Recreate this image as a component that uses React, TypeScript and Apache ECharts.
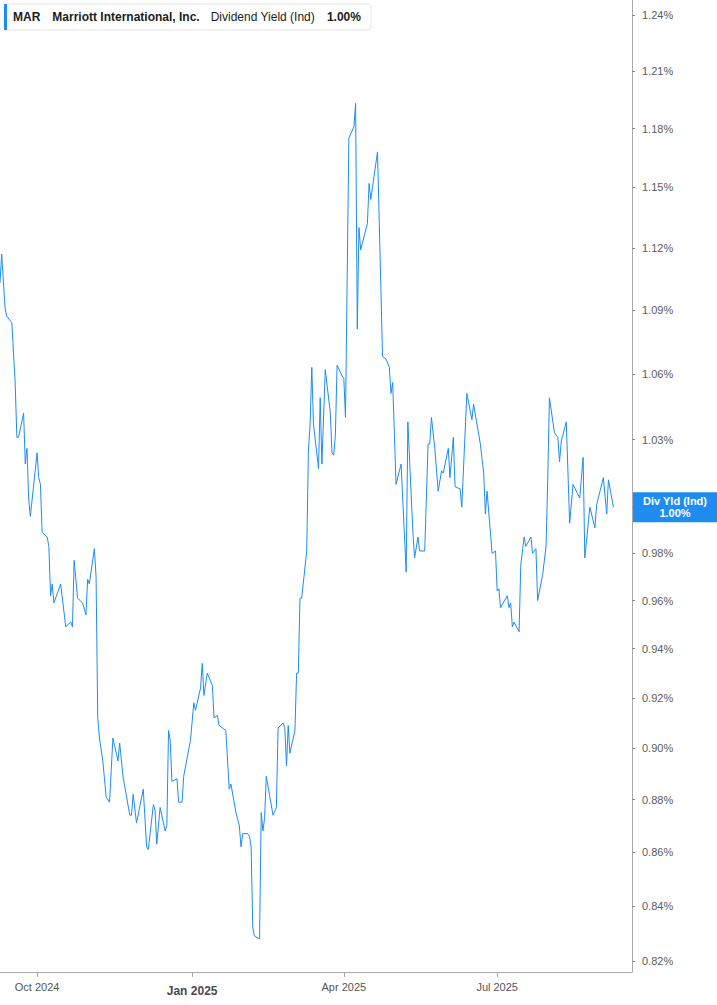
import React, { useEffect, useRef } from 'react';
import * as echarts from 'echarts';

// MAR dividend yield (indicated), in percent
const DATES = [
  '2024-09-09', '2024-09-10', '2024-09-12', '2024-09-13', '2024-09-16', '2024-09-18', '2024-09-19', '2024-09-20',
  '2024-09-23', '2024-09-24', '2024-09-25', '2024-09-26', '2024-09-27', '2024-10-01', '2024-10-02', '2024-10-03',
  '2024-10-04', '2024-10-07', '2024-10-08', '2024-10-09', '2024-10-10', '2024-10-11', '2024-10-15', '2024-10-18',
  '2024-10-21', '2024-10-22', '2024-10-23', '2024-10-25', '2024-10-28', '2024-10-30', '2024-10-31', '2024-11-01',
  '2024-11-04', '2024-11-05', '2024-11-06', '2024-11-07', '2024-11-09', '2024-11-11', '2024-11-13', '2024-11-15',
  '2024-11-18', '2024-11-19', '2024-11-21', '2024-11-25', '2024-11-26', '2024-11-27', '2024-11-29', '2024-12-03',
  '2024-12-05', '2024-12-06', '2024-12-09', '2024-12-10', '2024-12-11', '2024-12-13', '2024-12-16', '2024-12-17',
  '2024-12-18', '2024-12-19', '2024-12-20', '2024-12-23', '2024-12-24', '2024-12-26', '2024-12-27', '2024-12-31',
  '2025-01-02', '2025-01-03', '2025-01-06', '2025-01-07', '2025-01-08', '2025-01-10', '2025-01-13', '2025-01-14',
  '2025-01-16', '2025-01-17', '2025-01-21', '2025-01-23', '2025-01-24', '2025-01-27', '2025-01-29', '2025-01-30',
  '2025-01-31', '2025-02-03', '2025-02-04', '2025-02-05', '2025-02-06', '2025-02-07', '2025-02-10', '2025-02-11',
  '2025-02-12', '2025-02-13', '2025-02-14', '2025-02-18', '2025-02-20', '2025-02-21', '2025-02-24', '2025-02-25',
  '2025-02-26', '2025-02-27', '2025-02-28', '2025-03-03', '2025-03-04', '2025-03-05', '2025-03-06', '2025-03-07',
  '2025-03-10', '2025-03-11', '2025-03-12', '2025-03-13', '2025-03-14', '2025-03-17', '2025-03-18', '2025-03-19',
  '2025-03-21', '2025-03-24', '2025-03-25', '2025-03-26', '2025-03-27', '2025-03-28', '2025-03-31', '2025-04-01',
  '2025-04-02', '2025-04-04', '2025-04-07', '2025-04-08', '2025-04-09', '2025-04-10', '2025-04-11', '2025-04-15',
  '2025-04-16', '2025-04-17', '2025-04-21', '2025-04-24', '2025-04-26', '2025-04-28', '2025-04-29', '2025-04-30',
  '2025-05-02', '2025-05-05', '2025-05-08', '2025-05-09', '2025-05-12', '2025-05-13', '2025-05-15', '2025-05-16',
  '2025-05-19', '2025-05-21', '2025-05-22', '2025-05-23', '2025-05-25', '2025-05-27', '2025-05-29', '2025-05-30',
  '2025-06-02', '2025-06-03', '2025-06-05', '2025-06-06', '2025-06-09', '2025-06-10', '2025-06-13', '2025-06-16',
  '2025-06-17', '2025-06-21', '2025-06-23', '2025-06-24', '2025-06-25', '2025-06-28', '2025-06-30', '2025-07-01',
  '2025-07-02', '2025-07-03', '2025-07-07', '2025-07-08', '2025-07-09', '2025-07-10', '2025-07-11', '2025-07-14',
  '2025-07-15', '2025-07-17', '2025-07-18', '2025-07-21', '2025-07-22', '2025-07-24', '2025-07-25', '2025-07-28',
  '2025-07-30', '2025-07-31', '2025-08-01', '2025-08-04', '2025-08-06', '2025-08-07', '2025-08-08', '2025-08-11',
  '2025-08-13', '2025-08-15', '2025-08-19', '2025-08-21', '2025-08-22', '2025-08-25', '2025-08-26', '2025-08-28',
  '2025-08-29', '2025-09-02', '2025-09-04', '2025-09-05', '2025-09-08',
];

const YIELDS = [
  1.103, 1.117, 1.091, 1.087, 1.084, 1.056, 1.031, 1.031,
  1.042, 1.019, 1.026, 1.004, 0.996, 1.024, 1.013, 1.010,
  0.989, 0.987, 0.983, 0.962, 0.967, 0.959, 0.967, 0.949,
  0.951, 0.949, 0.977, 0.961, 0.959, 0.954, 0.969, 0.967,
  0.982, 0.970, 0.912, 0.904, 0.895, 0.881, 0.879, 0.904,
  0.895, 0.902, 0.889, 0.874, 0.874, 0.882, 0.871, 0.884,
  0.862, 0.861, 0.878, 0.876, 0.863, 0.877, 0.868, 0.870,
  0.907, 0.903, 0.887, 0.888, 0.879, 0.879, 0.889, 0.903,
  0.918, 0.915, 0.924, 0.934, 0.921, 0.930, 0.925, 0.912,
  0.913, 0.909, 0.907, 0.884, 0.886, 0.875, 0.870, 0.862,
  0.867, 0.867, 0.866, 0.862, 0.832, 0.829, 0.828, 0.875,
  0.868, 0.873, 0.889, 0.874, 0.877, 0.908, 0.910, 0.908,
  0.893, 0.909, 0.898, 0.907, 0.930, 0.930, 0.961, 0.961,
  0.981, 1.025, 1.037, 1.063, 1.037, 1.017, 1.049, 1.019,
  1.062, 1.042, 1.024, 1.023, 1.032, 1.064, 1.059, 1.058,
  1.040, 1.175, 1.181, 1.193, 1.081, 1.130, 1.119, 1.132,
  1.152, 1.144, 1.168, 1.068, 1.067, 1.063, 1.051, 1.056,
  1.010, 1.019, 0.972, 1.038, 0.989, 0.978, 0.987, 0.981,
  0.981, 1.028, 1.028, 1.040, 1.026, 1.007, 1.016, 1.015,
  1.026, 1.013, 1.031, 1.009, 1.008, 1.000, 1.051, 1.039,
  1.046, 1.028, 1.015, 0.997, 1.007, 0.980, 0.981, 0.964,
  0.965, 0.957, 0.962, 0.957, 0.959, 0.949, 0.951, 0.947,
  0.975, 0.987, 0.983, 0.987, 0.980, 0.982, 0.960, 0.971,
  0.983, 1.012, 1.049, 1.033, 1.031, 1.020, 1.029, 1.038,
  0.993, 1.010, 1.004, 1.022, 0.978, 1.000, 0.997, 0.991,
  1.001, 1.013, 0.997, 1.012, 1.000,
];

// tick marks; the 1.00% label sits under the last-value badge, so it has a tick only
const Y_TICKS = [0.82, 0.84, 0.86, 0.88, 0.9, 0.92, 0.94, 0.96, 0.98, 1.0, 1.03, 1.06, 1.09, 1.12, 1.15, 1.18, 1.21, 1.24];
const Y_LABELS = [0.82, 0.84, 0.86, 0.88, 0.9, 0.92, 0.94, 0.96, 0.98, 1.03, 1.06, 1.09, 1.12, 1.15, 1.18, 1.21, 1.24];
const X_TICKS = ['2024-10-01', '2025-01-01', '2025-04-01', '2025-07-01'];
const X_MIN = '2024-09-09';
const X_MAX = '2025-09-19';
const Y_MIN = 0.8161;
const Y_MAX = 1.2482;
const MONTHS = ['Jan', 'Feb', 'Mar', 'Apr', 'May', 'Jun', 'Jul', 'Aug', 'Sep', 'Oct', 'Nov', 'Dec'];

const BLUE = '#1e8cf0';
const FONT = '"Liberation Sans", Arial, sans-serif';

export default function App() {
  const chartRef = useRef<HTMLDivElement>(null);

  useEffect(() => {
    if (!chartRef.current) return;
    const chart = echarts.init(chartRef.current, null, { renderer: 'svg' });

    const last = YIELDS[YIELDS.length - 1];
    const pct = (v: number) => v.toFixed(2) + '%';
    // x: UTC timestamps on a value axis; y: ln(yield) for a log scale
    const points = DATES.map((d, i) => [Date.parse(d), Math.log(YIELDS[i])]);
    const xTicks = X_TICKS.map((d) => Date.parse(d));
    const yTicks = Y_TICKS.map((v) => Math.log(v));
    const yLabels = Y_LABELS.map((v) => Math.log(v));

    const option = {
      animation: false,
      backgroundColor: '#fff',
      textStyle: { fontFamily: FONT },
      grid: { left: 0, right: 85, top: 0, bottom: 33, containLabel: false, outerBoundsMode: 'none' },
      legend: {
        show: true,
        left: 4,
        top: 4,
        selectedMode: false,
        padding: [0, 10, 0, 0],
        itemWidth: 3,
        itemHeight: 26,
        backgroundColor: '#fff',
        borderColor: '#e4e4e4',
        borderWidth: 1,
        borderRadius: 3,
        data: [{ name: 'MAR', icon: 'rect', itemStyle: { color: BLUE } }],
        formatter: () =>
          `{a|MAR}{b|Marriott International, Inc.}{c|Dividend Yield (Ind)}{d|${pct(last)}}`,
        textStyle: {
          fontFamily: FONT,
          rich: {
            a: { fontSize: 12, fontWeight: 'bold', color: '#1c1c1c', fontFamily: FONT, padding: [0, 12, 0, 1] },
            b: { fontSize: 12, fontWeight: 'bold', color: '#1c1c1c', fontFamily: FONT, padding: [0, 11, 0, 0] },
            c: { fontSize: 12, fontWeight: 'normal', color: '#1c1c1c', fontFamily: FONT, padding: [0, 12, 0, 0] },
            d: { fontSize: 12, fontWeight: 'bold', color: '#1c1c1c', fontFamily: FONT },
          },
        },
      },
      xAxis: {
        type: 'value',
        min: Date.parse(X_MIN),
        max: Date.parse(X_MAX),
        axisLine: { show: true, onZero: false, lineStyle: { color: '#a8a8a8', width: 1 } },
        axisTick: { show: true, length: 5, lineStyle: { color: '#a8a8a8' }, customValues: xTicks },
        splitLine: { show: false },
        axisLabel: {
          customValues: xTicks,
          margin: 9,
          fontSize: 11,
          color: '#555',
          fontFamily: FONT,
          formatter: (v: number) => {
            const d = new Date(v);
            const s = `${MONTHS[d.getUTCMonth()]} ${d.getUTCFullYear()}`;
            return d.getUTCMonth() === 0 ? `{b|${s}}` : s;
          },
          rich: {
            b: { fontSize: 12, fontWeight: 'bold', color: '#4a4a4a', fontFamily: FONT, padding: [4, 0, 0, 0] },
          },
        },
      },
      yAxis: {
        type: 'value',
        position: 'right',
        min: Math.log(Y_MIN),
        max: Math.log(Y_MAX),
        axisLine: { show: true, onZero: false, lineStyle: { color: '#a8a8a8', width: 1 } },
        axisTick: { show: true, length: 3, lineStyle: { color: '#8a8a8a' }, customValues: yTicks },
        splitLine: { show: false },
        axisLabel: {
          customValues: yLabels,
          margin: 10,
          fontSize: 11,
          color: '#5c5c5c',
          fontFamily: FONT,
          formatter: (v: number) => pct(Math.exp(v)),
        },
      },
      series: [
        {
          name: 'MAR',
          type: 'line',
          data: points,
          showSymbol: false,
          clip: false,
          lineStyle: { color: BLUE, width: 1 },
          itemStyle: { color: BLUE },
          markLine: {
            silent: true,
            symbol: ['none', 'none'],
            lineStyle: { color: 'transparent', width: 0 },
            data: [{ yAxis: Math.log(last) }],
            label: {
              show: true,
              position: 'end',
              distance: 1,
              backgroundColor: BLUE,
              padding: [3, 0, 3, 0],
              formatter: `{t|Div Yld (Ind)}\n{t|${pct(last)}}`,
              rich: {
                t: {
                  width: 84,
                  align: 'center',
                  color: '#fff',
                  fontWeight: 'bold',
                  fontSize: 11,
                  lineHeight: 12,
                  fontFamily: FONT,
                },
              },
            },
          },
        },
      ],
    };

    chart.setOption(option as echarts.EChartsOption);
    return () => chart.dispose();
  }, []);

  return (
    <div
      ref={chartRef}
      style={{ position: 'absolute', left: 0, top: 0, width: 717, height: 1005 }}
    />
  );
}
